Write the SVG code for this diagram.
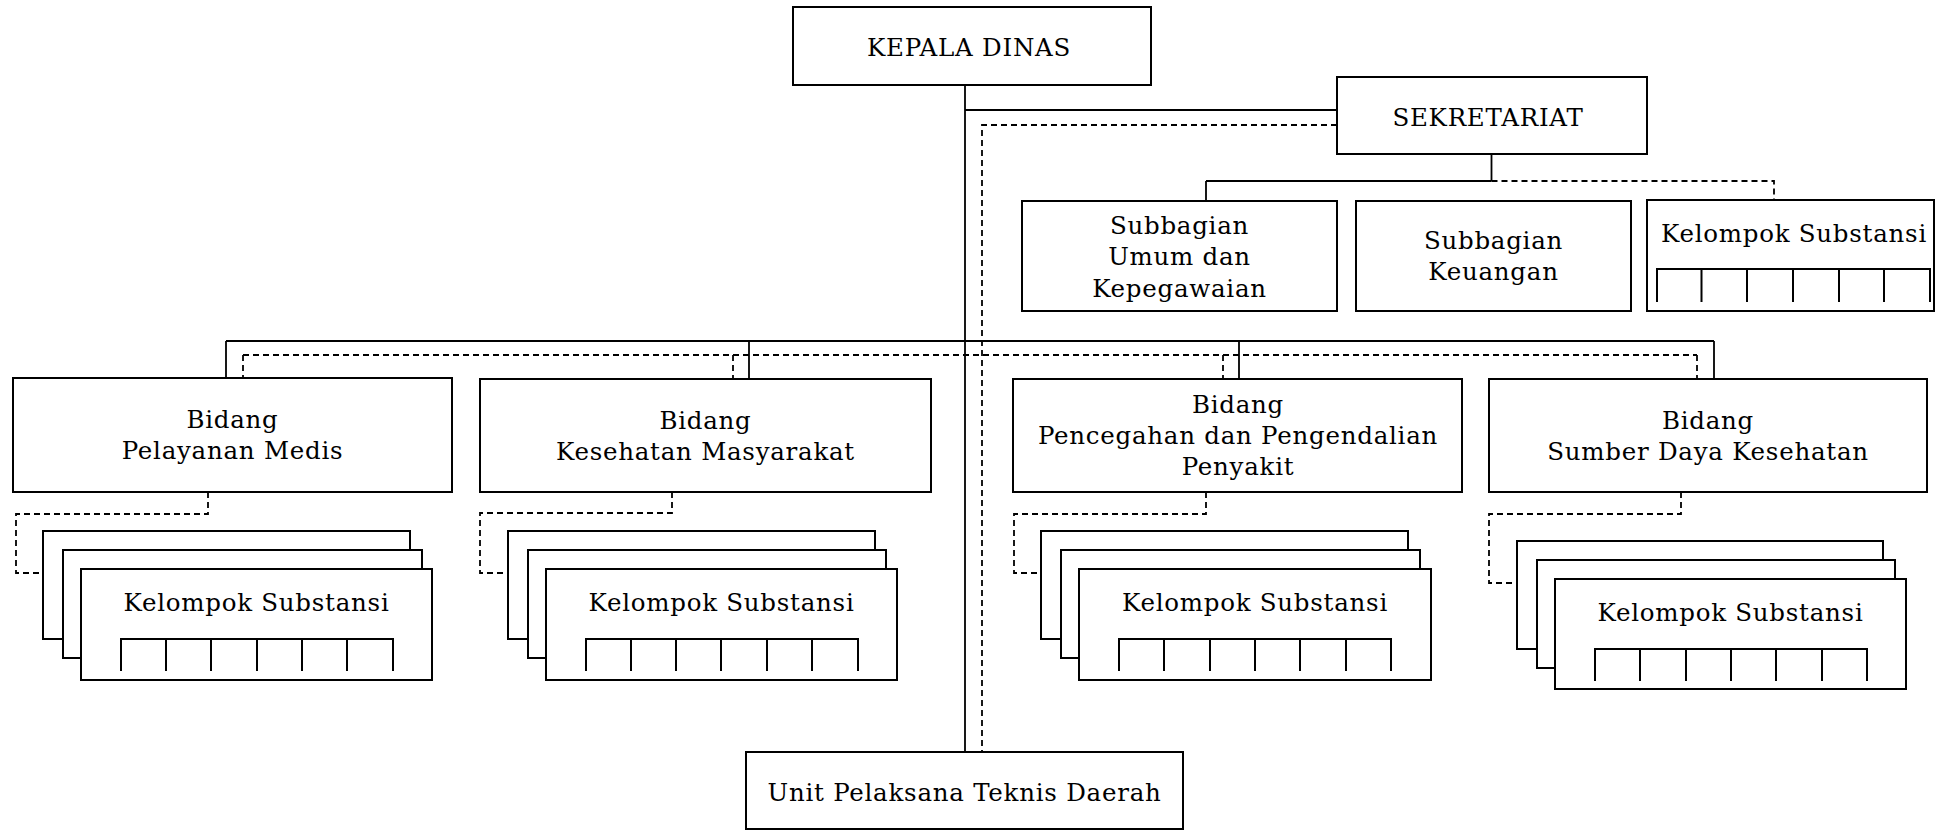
<svg xmlns="http://www.w3.org/2000/svg" width="1936" height="830" viewBox="0 0 1936 830">
<style>
.box{fill:#fff;stroke:#000;stroke-width:2}
.ln{fill:none;stroke:#000;stroke-width:1.8}
.ds{fill:none;stroke:#000;stroke-width:1.8;stroke-dasharray:6 4}
.grid{fill:none;stroke:#000;stroke-width:2}
text{font-family:"DejaVu Serif","Liberation Serif",serif;font-size:24.5px;letter-spacing:0.75px;fill:#000;text-anchor:middle}
</style>
<rect width="1936" height="830" fill="#fff"/>
<g id="connectors">
<path class="ln" d="M965 85V752M965 110H1337M1491.5 154V181M1206 181H1491.5M1206 181V201M226 341H1714M226 341V379M749 341V379M1239 341V379M1714 341V379"/>
<path class="ds" d="M1337 125H982V752M1491.5 181H1774V200M243 355H1697M243 355V379M733 355V379M1223 355V379M1697 355V379"/>
<path class="ds" d="M208 492V514H16V573H43M672 492V513H480V573H508M1206 492V514H1014V573H1041M1681 492V514H1489V583H1517"/>
</g>
<g id="kepala-dinas"><rect class="box" x="793" y="7" width="358" height="78"/><text x="969" y="56">KEPALA DINAS</text></g>
<g id="sekretariat"><rect class="box" x="1337" y="77" width="310" height="77"/><text x="1488" y="126">SEKRETARIAT</text></g>
<g id="subbagian-umum"><rect class="box" x="1022" y="201" width="315" height="110"/><text x="1179.5" y="234">Subbagian</text><text x="1179.5" y="265">Umum dan</text><text x="1179.5" y="297">Kepegawaian</text></g>
<g id="subbagian-keuangan"><rect class="box" x="1356" y="201" width="275" height="110"/><text x="1493.5" y="249">Subbagian</text><text x="1493.5" y="280">Keuangan</text></g>
<g id="kelompok-sekretariat"><rect class="box" x="1647" y="200" width="287" height="111"/><text x="1794" y="242">Kelompok Substansi</text><path class="grid" d="M1657 302V269H1930V302M1701.5 269V302M1747 269V302M1793 269V302M1839 269V302M1884 269V302"/></g>
<g id="bidang-pelayanan-medis"><rect class="box" x="13" y="378" width="439" height="114"/><text x="232.5" y="428">Bidang</text><text x="232.5" y="459">Pelayanan Medis</text></g>
<g id="kelompok-pelayanan-medis">
<rect class="box" x="43" y="531" width="367" height="108"/><rect class="box" x="63" y="550" width="359" height="108"/><rect class="box" x="81" y="569" width="351" height="111"/>
<text x="256.5" y="611">Kelompok Substansi</text>
<path class="grid" d="M121 671V639H393V671M166 639V671M211 639V671M257 639V671M302 639V671M347 639V671"/></g>
<g id="bidang-kesehatan-masyarakat"><rect class="box" x="480" y="379" width="451" height="113"/><text x="705.5" y="429">Bidang</text><text x="705.5" y="460">Kesehatan Masyarakat</text></g>
<g id="kelompok-kesehatan-masyarakat">
<rect class="box" x="508" y="531" width="367" height="108"/><rect class="box" x="528" y="550" width="358" height="108"/><rect class="box" x="546" y="569" width="351" height="111"/>
<text x="721.5" y="611">Kelompok Substansi</text>
<path class="grid" d="M586 671V639H858V671M631 639V671M676 639V671M721 639V671M767 639V671M812 639V671"/></g>
<g id="bidang-p2p"><rect class="box" x="1013" y="379" width="449" height="113"/><text x="1238" y="413">Bidang</text><text x="1238" y="444">Pencegahan dan Pengendalian</text><text x="1238" y="475">Penyakit</text></g>
<g id="kelompok-p2p">
<rect class="box" x="1041" y="531" width="367" height="108"/><rect class="box" x="1061" y="550" width="359" height="108"/><rect class="box" x="1079" y="569" width="352" height="111"/>
<text x="1255" y="611">Kelompok Substansi</text>
<path class="grid" d="M1119 671V639H1391V671M1164 639V671M1210 639V671M1255 639V671M1300 639V671M1346 639V671"/></g>
<g id="bidang-sdk"><rect class="box" x="1489" y="379" width="438" height="113"/><text x="1708" y="429">Bidang</text><text x="1708" y="460">Sumber Daya Kesehatan</text></g>
<g id="kelompok-sdk">
<rect class="box" x="1517" y="541" width="366" height="108"/><rect class="box" x="1537" y="560" width="358" height="108"/><rect class="box" x="1555" y="579" width="351" height="110"/>
<text x="1730.5" y="621">Kelompok Substansi</text>
<path class="grid" d="M1595 681V649H1867V681M1640 649V681M1686 649V681M1731 649V681M1776 649V681M1822 649V681"/></g>
<g id="upt"><rect class="box" x="746" y="752" width="437" height="77"/><text x="964.5" y="801">Unit Pelaksana Teknis Daerah</text></g>
</svg>
